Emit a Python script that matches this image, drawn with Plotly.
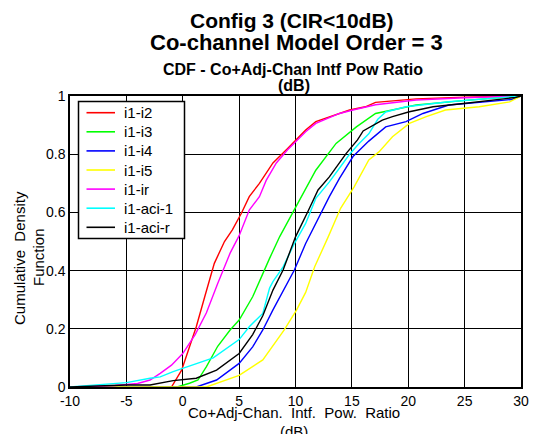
import plotly.graph_objects as go

# ---- data ----
series_names = ["i1-i2", "i1-i3", "i1-i4", "i1-i5", "i1-ir", "i1-aci-1", "i1-aci-r"]
series_colors = ["#ff0000", "#00ff00", "#0000ff", "#ffff00", "#ff00ff", "#00ffff", "#000000"]

i2_x = [-10, -1.0, -0.1, 0.5, 1.2, 1.95, 2.8, 3.7, 4.4, 5.2, 5.9, 6.8, 8.0, 9.3, 10.9, 11.8, 13.5, 14.8, 16.2, 17.1, 20.7, 25, 30]
i2_y = [0, 0, 0.058, 0.13, 0.207, 0.31, 0.425, 0.5, 0.54, 0.597, 0.654, 0.70, 0.77, 0.82, 0.883, 0.912, 0.935, 0.952, 0.963, 0.978, 0.99, 0.996, 1.0]

i3_x = [-10, -0.5, 0.6, 1.35, 2.1, 3.1, 4.2, 5.0, 6.2, 7.1, 7.7, 8.6, 9.9, 11.8, 13.6, 15.4, 17.1, 19.2, 20.7, 25.1, 30]
i3_y = [0, 0, 0.013, 0.024, 0.07, 0.14, 0.196, 0.23, 0.31, 0.39, 0.442, 0.517, 0.608, 0.745, 0.837, 0.894, 0.94, 0.957, 0.969, 0.985, 1.0]

i4_x = [-10, 1.2, 3.0, 5.0, 6.2, 7.1, 8.0, 8.9, 9.9, 10.9, 12.1, 13.0, 13.9, 15.1, 16.5, 18.0, 19.8, 21.3, 23.6, 26.6, 29.2, 30]
i4_y = [0, 0, 0.024, 0.081, 0.138, 0.196, 0.265, 0.33, 0.402, 0.493, 0.585, 0.654, 0.717, 0.792, 0.845, 0.894, 0.912, 0.94, 0.969, 0.98, 0.988, 1.0]

i5_x = [-10, 2.1, 5.0, 7.1, 9.0, 10.1, 10.9, 11.7, 12.9, 14.0, 15.2, 16.5, 17.4, 18.6, 20.1, 21.6, 23.3, 26.3, 29.0, 30]
i5_y = [0, 0, 0.04, 0.093, 0.196, 0.265, 0.325, 0.413, 0.516, 0.614, 0.688, 0.78, 0.808, 0.86, 0.906, 0.929, 0.952, 0.963, 0.98, 1.0]

ir_x = [-10, -6, -4, -2.9, -2.0, -1.0, 0.0, 1.1, 2.1, 3.1, 4.2, 5.0, 5.9, 6.8, 7.4, 8.3, 9.3, 10.9, 11.8, 13.9, 15.1, 17.1, 20.7, 25, 30]
ir_y = [0, 0.005, 0.012, 0.024, 0.047, 0.075, 0.115, 0.18, 0.255, 0.356, 0.46, 0.52, 0.608, 0.654, 0.71, 0.77, 0.815, 0.877, 0.906, 0.94, 0.952, 0.97, 0.986, 0.994, 1.0]

aci1_x = [-10, -7.9, -5.0, -2.9, -2.0, -0.85, 0.9, 2.7, 5.0, 5.9, 7.1, 7.7, 8.0, 8.9, 9.9, 10.9, 11.8, 13.0, 14.2, 14.8, 15.6, 16.5, 17.3, 18.0, 19.8, 23.6, 30]
aci1_y = [0, 0.007, 0.015, 0.03, 0.035, 0.053, 0.075, 0.1, 0.163, 0.207, 0.253, 0.34, 0.362, 0.413, 0.493, 0.562, 0.648, 0.705, 0.768, 0.80, 0.835, 0.87, 0.92, 0.945, 0.963, 0.98, 1.0]

acir_x = [-10, -5, -2.9, -2.0, -0.85, 1.2, 3.0, 5.0, 6.2, 7.1, 8.0, 8.9, 10.0, 11.1, 12.0, 13.0, 14.5, 15.5, 16.0, 17.7, 18.6, 20.1, 22.2, 25.1, 29.5, 30]
acir_y = [0, 0.007, 0.007, 0.013, 0.022, 0.03, 0.058, 0.115, 0.18, 0.245, 0.333, 0.402, 0.516, 0.603, 0.677, 0.722, 0.803, 0.849, 0.88, 0.917, 0.929, 0.946, 0.963, 0.975, 0.995, 1.0]

xs = [i2_x, i3_x, i4_x, i5_x, ir_x, aci1_x, acir_x]
ys = [i2_y, i3_y, i4_y, i5_y, ir_y, aci1_y, acir_y]

x_ticks = [-10, -5, 0, 5, 10, 15, 20, 25, 30]
x_tick_text = ["-10", "-5", "0", "5", "10", "15", "20", "25", "30"]
y_ticks = [0, 0.2, 0.4, 0.6, 0.8, 1]
y_tick_text = ["0", "0.2", "0.4", "0.6", "0.8", "1"]

FONT = "Liberation Sans, Arial, sans-serif"
L, R, T, B = 70, 521, 96, 387   # plot area in pixels
PW, PH = R - L, B - T


def px(xp):
    return (xp - L) / PW


def py(yp):
    return (B - yp) / PH


fig = go.Figure()
for name, color, x, y in zip(series_names, series_colors, xs, ys):
    fig.add_trace(go.Scatter(x=x, y=y, mode="lines", name=name,
                             line=dict(color=color, width=1.4)))

fig.update_layout(
    width=533, height=434,
    margin=dict(l=L, r=533 - R, t=T, b=434 - B, autoexpand=False),
    paper_bgcolor="white", plot_bgcolor="white",
    font=dict(family=FONT, size=14, color="black"),
    showlegend=False,
    xaxis=dict(range=[-10, 30], tickvals=x_ticks, ticktext=x_tick_text, showgrid=True,
               gridcolor="black", gridwidth=1.2, zeroline=False, automargin=False,
               showline=True, linecolor="black", linewidth=1.5, mirror=True,
               ticks="", tickfont=dict(size=14)),
    yaxis=dict(range=[0, 1], tickvals=y_ticks, ticktext=y_tick_text, showgrid=True,
               gridcolor="black", gridwidth=1.2, zeroline=False, automargin=False,
               showline=True, linecolor="black", linewidth=1.5, mirror=True,
               ticks="", tickfont=dict(size=14)),
)

# ---- legend drawn as a box with samples ----
fig.add_shape(type="rect", xref="paper", yref="paper",
              x0=px(78.5), x1=px(184.5), y0=py(238.5), y1=py(101.5),
              line=dict(color="black", width=1.5), fillcolor="white", layer="above")
for i, (name, color) in enumerate(zip(series_names, series_colors)):
    yy = 112.7 + i * 19.1
    fig.add_shape(type="line", xref="paper", yref="paper",
                  x0=px(86.5), x1=px(115), y0=py(yy), y1=py(yy),
                  line=dict(color=color, width=1.6), layer="above")
    fig.add_annotation(text=name, xref="paper", yref="paper",
                       x=px(122), y=py(yy), xanchor="left", yanchor="middle",
                       showarrow=False, font=dict(size=15, family=FONT, color="black"))

ann = [
    dict(text="<b>Config 3 (CIR<10dB)</b>", x=292, y=20, size=21),
    dict(text="<b>Co-channel Model Order = 3</b>", x=296, y=43, size=22),
    dict(text="<b>CDF - Co+Adj-Chan Intf Pow Ratio</b>", x=292.5, y=69, size=16),
    dict(text="<b>(dB)</b>", x=294, y=86, size=16),
    dict(text="Co+Adj-Chan.  Intf.  Pow.  Ratio", x=294, y=412, size=15),
    dict(text="(dB)", x=294, y=431, size=15),
]
for a in ann:
    fig.add_annotation(text=a["text"], xref="paper", yref="paper",
                       x=px(a["x"]), y=py(a["y"]),
                       xanchor="center", yanchor="middle", showarrow=False,
                       font=dict(size=a["size"], family=FONT, color="black"))

for txt, xp, yp in [("Cumulative  Density", 19, 258), ("Function", 38, 257)]:
    fig.add_annotation(text=txt, xref="paper", yref="paper",
                       x=px(xp), y=py(yp),
                       xanchor="center", yanchor="middle", showarrow=False,
                       textangle=-90,
                       font=dict(size=15, family=FONT, color="black"))

fig.write_html("out.html", config={"displayModeBar": False},
               post_script="document.body.style.margin='0';document.body.style.overflow='hidden';")
